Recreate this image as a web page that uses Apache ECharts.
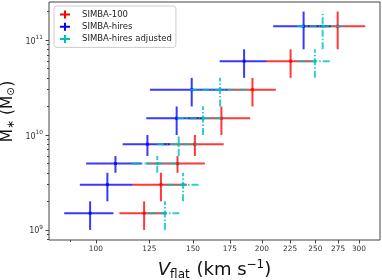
<!DOCTYPE html>
<html><head><meta charset="utf-8">
<script src="https://cdn.jsdelivr.net/npm/echarts@6/dist/echarts.min.js"></script>
<style>html,body{margin:0;padding:0;background:#fff}#c{width:382px;height:280px}</style>
</head><body><div id="c"></div>
<script>
// ---- data ----
const massBins = [1.5e9, 3e9, 5e9, 8e9, 1.5e10, 3e10, 6e10, 1.4e11];
const massErr  = [0.5e9, 1e9, 1e9, 2e9, 0.5e10, 1e10, 2e10, 6e10];
const vflatSimba100 = [122.3, 131.2, 140.6, 151.2, 168.9, 192.3, 225.5, 274.5];
const errSimba100   = [12, 15, 17, 19.3, 21.6, 19.7, 22, 33.5];
const vflatHires    = [97.6, 104.9, 108.5, 124.0, 140.1, 149.2, 185.7, 238.1];
const errHires      = [10, 11.4, 12.5, 12.2, 16.7, 23.9, 18, 28.4];
const vflatAdj      = [133.4, 143.9, 129.2, 141.3, 156.4, 168.0, 249.6, 257.8];
const errAdj        = [9.4, 9.6, 12.9, 12, 16, 20, 17.3, 26];
const seriesNames = ['SIMBA-100', 'SIMBA-hires', 'SIMBA-hires adjusted'];
const xTickLabels = [100, 125, 150, 175, 200, 225, 250, 275, 300];
const xMinorTicks = [90];
const yTickLabels = [1e9, 1e10, 1e11];
const yMinorTicks = [8e8, 9e8, 2e9, 3e9, 4e9, 5e9, 6e9, 7e9, 8e9, 9e9,
                     2e10, 3e10, 4e10, 5e10, 6e10, 7e10, 8e10, 9e10, 2e11];
const xRange = [82.2, 327.6];
const yRange = [7.83e8, 2.52e11];

const L = Math.log10;
const FONT = 'DejaVu Sans';
const colors = ['rgba(255,0,0,0.78)', 'rgba(0,0,255,0.78)', 'rgba(0,191,191,0.8)'];
const solidColors = ['#ff0000', '#0000ff', '#00bfbf'];
const dashes = [null, null, [7, 2, 1.5, 2]];

function makeSeries(idx, xs, xe) {
  const color = colors[idx];
  return {
    type: 'custom', name: seriesNames[idx], coordinateSystem: 'cartesian2d',
    xAxisIndex: 0, yAxisIndex: 0,
    itemStyle: { color: solidColors[idx] },
    encode: { x: 0, y: 1 },
    data: xs.map((v, i) => [v, massBins[i], xe[i], massErr[i]]),
    renderItem: function (params, api) {
      const x = api.value(0), y = api.value(1), ex = api.value(2), ey = api.value(3);
      const pL = api.coord([x - ex, y]), pR = api.coord([x + ex, y]);
      const pB = api.coord([x, y - ey]), pT = api.coord([x, y + ey]);
      const c = api.coord([x, y]);
      const st = { stroke: color, lineWidth: 2, fill: null };
      if (dashes[idx]) st.lineDash = dashes[idx];
      return { type: 'group', children: [
        { type: 'line', shape: { x1: pL[0], y1: pL[1], x2: pR[0], y2: pR[1] }, style: Object.assign({}, st) },
        { type: 'line', shape: { x1: pB[0], y1: pB[1], x2: pT[0], y2: pT[1] }, style: Object.assign({}, st) },
        { type: 'rect', shape: { x: c[0] - 1.5, y: c[1] - 1.5, width: 3, height: 3 }, style: { fill: color } }
      ]};
    }
  };
}

const plusIcon = 'path://M0,3 L10,3 L10,5 L0,5 Z M4,0 L6,0 L6,8 L4,8 Z';
const tickColor = '#444';

const chart = echarts.init(document.getElementById('c'), null, { renderer: 'canvas' });
chart.setOption({
  animation: false,
  textStyle: { fontFamily: FONT },
  grid: { left: 49, right: 2, top: 2, bottom: 40, containLabel: false, outerBoundsMode: 'none',
          show: true, borderColor: '#444', borderWidth: 1, backgroundColor: 'transparent' },
  legend: {
    left: 54, top: 6, orient: 'vertical',
    padding: [3.5, 4, 3.5, 6], itemGap: 2.2, itemWidth: 10, itemHeight: 8,
    backgroundColor: 'rgba(255,255,255,0.8)', borderColor: '#cccccc', borderWidth: 1, borderRadius: 3,
    textStyle: { fontFamily: FONT, fontSize: 8.5, color: '#222', lineHeight: 10, padding: [0, 0, 0, 7] },
    data: seriesNames.map(n => ({ name: n, icon: plusIcon }))
  },
  xAxis: [
    { type: 'log', min: xRange[0], max: xRange[1], show: false },
    { type: 'value', min: L(xRange[0]), max: L(xRange[1]), position: 'bottom',
      axisLine: { show: false }, splitLine: { show: false },
      axisTick: { show: true, length: 3.5, customValues: xTickLabels.map(L), lineStyle: { color: tickColor } },
      axisLabel: { customValues: xTickLabels.map(L), formatter: v => String(Math.round(Math.pow(10, v))),
                   fontFamily: FONT, fontSize: 7.4, color: '#333', margin: 6 },
      name: '{v|V}{sub|flat}{n| (km s}{sup|\u22121}{n|)}', nameLocation: 'middle', nameGap: 19,
      nameMoveOverlap: false,
      nameTextStyle: { rich: {
        v: { fontFamily: FONT, fontSize: 18, fontStyle: 'italic', color: '#111', lineHeight: 22 },
        n: { fontFamily: FONT, fontSize: 18, color: '#111', lineHeight: 22 },
        sub: { fontFamily: FONT, fontSize: 12, color: '#111', verticalAlign: 'bottom', lineHeight: 12, padding: [0, 1, 0, 0] },
        sup: { fontFamily: FONT, fontSize: 12, color: '#111', verticalAlign: 'top', lineHeight: 12 }
      } }
    },
    { type: 'value', min: L(xRange[0]), max: L(xRange[1]), position: 'bottom',
      axisLine: { show: false }, splitLine: { show: false }, axisLabel: { show: false },
      axisTick: { show: true, length: 2, customValues: xMinorTicks.map(L), lineStyle: { color: tickColor } } }
  ],
  yAxis: [
    { type: 'log', min: yRange[0], max: yRange[1], show: false },
    { type: 'value', min: L(yRange[0]), max: L(yRange[1]), position: 'left',
      axisLine: { show: false }, splitLine: { show: false },
      axisTick: { show: true, length: 3.5, customValues: yTickLabels.map(L), lineStyle: { color: tickColor } },
      axisLabel: { customValues: yTickLabels.map(L), formatter: v => '{b|10}{s|' + Math.round(v) + '}',
                   margin: 6, color: '#333',
                   rich: { b: { fontFamily: FONT, fontSize: 8, color: '#333', lineHeight: 11, verticalAlign: 'bottom' },
                           s: { fontFamily: FONT, fontSize: 5.8, color: '#333', lineHeight: 11, verticalAlign: 'top' } } },
      name: '{pad| }{m|M}{s|\u2217}{n| (M}{o|\u2299}{n|)}', nameLocation: 'middle', nameGap: 32, nameRotate: 90,
      nameMoveOverlap: false,
      nameTextStyle: { rich: {
        pad: { width: 19, fontSize: 15.5, lineHeight: 18 },
        m: { fontFamily: FONT, fontSize: 15.5, color: '#111', lineHeight: 18 },
        n: { fontFamily: FONT, fontSize: 15.5, color: '#111', lineHeight: 18 },
        s: { fontFamily: FONT, fontSize: 10.5, color: '#111', lineHeight: 13, verticalAlign: 'bottom' },
        o: { fontFamily: FONT, fontSize: 10.5, color: '#111', lineHeight: 12, verticalAlign: 'bottom' }
      } }
    },
    { type: 'value', min: L(yRange[0]), max: L(yRange[1]), position: 'left',
      axisLine: { show: false }, splitLine: { show: false }, axisLabel: { show: false },
      axisTick: { show: true, length: 2, customValues: yMinorTicks.map(L), lineStyle: { color: tickColor } } }
  ],
  series: [
    makeSeries(0, vflatSimba100, errSimba100),
    makeSeries(1, vflatHires, errHires),
    makeSeries(2, vflatAdj, errAdj)
  ]
});
</script></body></html>
